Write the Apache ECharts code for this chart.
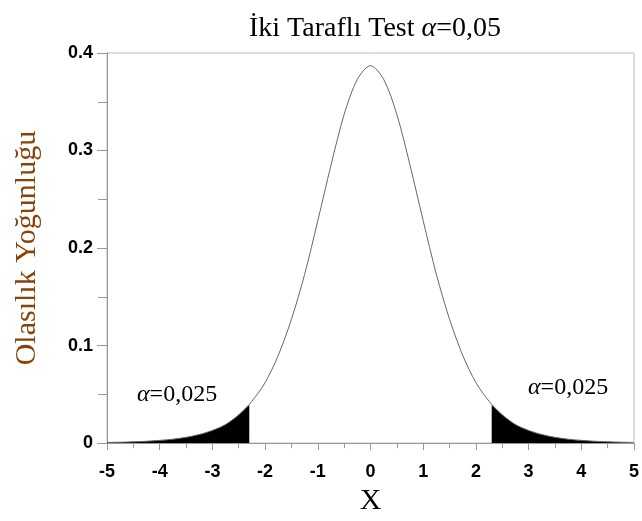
<!DOCTYPE html>
<html>
<head>
<meta charset="utf-8">
<script src="https://cdn.jsdelivr.net/npm/echarts@6/dist/echarts.min.js"></script>
<style>
html, body { margin: 0; padding: 0; background: #fff; }
#chart { width: 642px; height: 521px; }
</style>
</head>
<body>
<div id="chart"></div>
<script>
// x positions and density (symmetric around 0)
var xs = [-5, -4.75, -4.5, -4.25, -4, -3.75, -3.5, -3.25, -3, -2.75, -2.5, -2.25, -2, -1.75, -1.5, -1.25, -1, -0.75, -0.5, -0.25,
          0, 0.25, 0.5, 0.75, 1, 1.25, 1.5, 1.75, 2, 2.25, 2.5, 2.75, 3, 3.25, 3.5, 3.75, 4, 4.25, 4.5, 4.75, 5];
var density = [0.0007, 0.0009, 0.0013, 0.0019, 0.0028, 0.0040, 0.0059, 0.0088, 0.013, 0.019, 0.029, 0.043, 0.062, 0.090, 0.127, 0.173, 0.228, 0.285, 0.337, 0.373,
               0.387, 0.373, 0.337, 0.285, 0.228, 0.173, 0.127, 0.090, 0.062, 0.043, 0.029, 0.019, 0.013, 0.0088, 0.0059, 0.0040, 0.0028, 0.0019, 0.0013, 0.0009, 0.0007];

// shaded tails (critical value about 2.3)
var leftTailX = [-5, -4.75, -4.5, -4.25, -4, -3.75, -3.5, -3.25, -3, -2.75, -2.5, -2.3];
var leftTailY = [0.0007, 0.0009, 0.0013, 0.0019, 0.0028, 0.0040, 0.0059, 0.0088, 0.013, 0.019, 0.029, 0.039];
var rightTailX = [2.3, 2.5, 2.75, 3, 3.25, 3.5, 3.75, 4, 4.25, 4.5, 4.75, 5];
var rightTailY = [0.039, 0.029, 0.019, 0.013, 0.0088, 0.0059, 0.0040, 0.0028, 0.0019, 0.0013, 0.0009, 0.0007];

function pairs(a, b) {
    var out = [];
    for (var i = 0; i < a.length; i++) out.push([a[i], b[i]]);
    return out;
}

var serif = '"Liberation Serif", "DejaVu Serif", serif';
var sans = '"Liberation Sans", Arial, sans-serif';

function alphaText(left, top) {
    return {
        type: 'text', left: left, top: top,
        style: { text: '{a|α}{t|=0,025}', rich: {
            t: { fontFamily: serif, fontSize: 24, fill: '#000' },
            a: { fontFamily: serif, fontSize: 24, fontStyle: 'italic', fill: '#000' } } }
    };
}

var myChart = echarts.init(document.getElementById('chart'));
myChart.setOption({
    animation: false,
    backgroundColor: '#fff',
    title: {
        text: '{t|İki Taraflı Test }{a|α}{t|=0,05}',
        left: 370,
        textAlign: 'center',
        top: 10,
        textStyle: {
            rich: {
                t: { fontFamily: serif, fontSize: 28, fontWeight: 'normal', color: '#000' },
                a: { fontFamily: serif, fontSize: 28, fontWeight: 'normal', fontStyle: 'italic', color: '#000' }
            }
        }
    },
    grid: {
        left: 107, right: 5, top: 53, bottom: 76,
        show: true, borderColor: '#bbb', borderWidth: 1
    },
    xAxis: {
        type: 'value',
        min: -5, max: 5, interval: 1,
        name: 'X',
        nameLocation: 'middle',
        nameGap: 37,
        nameTextStyle: { fontFamily: serif, fontSize: 30, color: '#000' },
        axisLine: { onZero: false, lineStyle: { color: '#999' } },
        axisTick: { length: 7, lineStyle: { color: '#999' } },
        minorTick: { show: true, splitNumber: 2, length: 5, lineStyle: { color: '#999' } },
        splitLine: { show: false },
        axisLabel: { fontFamily: sans, fontWeight: 'bold', fontSize: 18, color: '#000', margin: 20 }
    },
    yAxis: {
        type: 'value',
        min: 0, max: 0.4, interval: 0.1,
        name: 'Olasılık Yoğunluğu',
        nameLocation: 'middle',
        nameGap: 65,
        nameTextStyle: { fontFamily: serif, fontSize: 30, color: '#8a4208' },
        axisLine: { show: true, onZero: false, lineStyle: { color: '#999' } },
        axisTick: { show: true, length: 10, lineStyle: { color: '#999' } },
        minorTick: { show: true, splitNumber: 2, length: 9, lineStyle: { color: '#999' } },
        splitLine: { show: false },
        axisLabel: {
            fontFamily: sans, fontWeight: 'bold', fontSize: 18, color: '#000', margin: 14,
            padding: [10, 0, 0, 0],
            formatter: function (v) { return v === 0 ? '0' : v.toFixed(1); }
        }
    },
    graphic: [
        alphaText(137, 383),
        alphaText(528, 376)
    ],
    series: [
        {
            type: 'line', data: pairs(leftTailX, leftTailY), smooth: 0.3, symbol: 'none',
            lineStyle: { width: 0 }, areaStyle: { color: '#000', opacity: 1 }, z: 2
        },
        {
            type: 'line', data: pairs(rightTailX, rightTailY), smooth: 0.3, symbol: 'none',
            lineStyle: { width: 0 }, areaStyle: { color: '#000', opacity: 1 }, z: 2
        },
        {
            type: 'line', data: pairs(xs, density), smooth: 0.3, symbol: 'none',
            lineStyle: { color: '#666', width: 1 }, z: 3
        }
    ]
});
</script>
</body>
</html>
